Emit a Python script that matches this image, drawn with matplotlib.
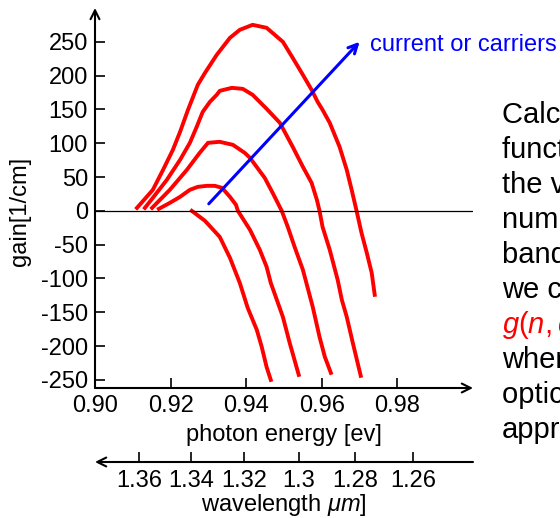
import numpy as np
import matplotlib
matplotlib.use("Agg")
import matplotlib.pyplot as plt

plt.rcParams['font.family'] = ['Liberation Sans', 'DejaVu Sans']
plt.rcParams['mathtext.fontset'] = 'custom'
plt.rcParams['mathtext.rm'] = 'Liberation Sans'
plt.rcParams['mathtext.it'] = 'Liberation Sans:italic'
plt.rcParams['axes.unicode_minus'] = False

# gain curves, photon energy [ev] vs gain [1/cm]
e1 = [0.9256, 0.9291, 0.9330, 0.9357, 0.9383, 0.9404, 0.9428, 0.9441, 0.9454, 0.9465]
g1 = [0, -14.8, -38.5, -69.5, -106.5, -143.5, -176, -201, -231, -250]

e2 = [0.9169, 0.9198, 0.9225, 0.9251, 0.9272, 0.9296, 0.9317, 0.9336, 0.9357, 0.9373,
      0.9378, 0.9410, 0.9436, 0.9454, 0.9465, 0.9481, 0.9497, 0.9515, 0.9539]
g2 = [3.0, 11.8, 20.7, 31.1, 35.5, 37.0, 37.0, 34.0, 20.7, 8.9,
      0, -28.1, -57.7, -82.8, -106.5, -131.6, -156.8, -195.2, -242.6]

e3 = [0.9151, 0.9198, 0.9243, 0.9277, 0.9299, 0.9330, 0.9365, 0.9396, 0.9410, 0.9449,
      0.9470, 0.9494, 0.9510, 0.9528, 0.9550, 0.9576, 0.9594, 0.9608, 0.9624]
g3 = [4.4, 31.1, 60.6, 85.8, 100.6, 102.1, 97.6, 85.8, 78.4, 48.8,
      26.6, 0, -23.7, -53.2, -87.3, -142, -186.4, -215.9, -239.6]

e4 = [0.9132, 0.9153, 0.9190, 0.9225, 0.9251, 0.9269, 0.9285, 0.9304, 0.9322, 0.9330,
      0.9362, 0.9391, 0.9417, 0.9454, 0.9489, 0.9523, 0.9550, 0.9573, 0.9587, 0.9594,
      0.9602, 0.9621, 0.9642, 0.9653, 0.9666, 0.9682, 0.9703]
g4 = [4.4, 19.2, 45.8, 75.4, 100.6, 124.2, 146.4, 161.2, 171.6, 177.5,
      181.9, 180.4, 171.6, 150.9, 130.2, 94.7, 65.1, 41.4, 16.3, 0,
      -23.7, -57.7, -102.1, -131.6, -156.8, -195.2, -244]

e5 = [0.9111, 0.9132, 0.9153, 0.9180, 0.9206, 0.9225, 0.9246, 0.9272, 0.9291, 0.9322,
      0.9357, 0.9383, 0.9417, 0.9454, 0.9497, 0.9523, 0.9550, 0.9573, 0.9589, 0.9602,
      0.9621, 0.9647, 0.9666, 0.9679, 0.9692, 0.9705, 0.9719, 0.9732, 0.9740]
g5 = [4.4, 17.7, 31.1, 60.6, 90.2, 116.8, 149.4, 186.4, 204.1, 230.7,
      255.9, 267.7, 275.1, 270.7, 250, 226.3, 201.1, 179, 161.2, 149.4,
      130.2, 94.7, 60.6, 31.1, 0, -32.5, -62.1, -91.7, -124.2]

curves = [(e1, g1), (e2, g2), (e3, g3), (e4, g4), (e5, g5)]

arrow_start = (0.9301, 10.4)
arrow_end = (0.9700, 250)

yticks = [-250, -200, -150, -100, -50, 0, 50, 100, 150, 200, 250]
xticks = [0.90, 0.92, 0.94, 0.96, 0.98]
wl_ticks = [1.36, 1.34, 1.32, 1.30, 1.28, 1.26]
wl_labels = ['1.36', '1.34', '1.32', '1.3', '1.28', '1.26']

side_text = [
    "Calculating the gain as a",
    "function of photon energy for",
    "the various values of carrier",
    "number injected into the",
    "band edges (or current)",
    "we can write",
    r"$g(n,\omega) = a\,(n - n_{tr})$",
    "where a is the differential",
    "optical gain, this is an",
    "approximation",
]

fig = plt.figure(figsize=(5.6, 5.18), dpi=100)
W, H = 560.0, 518.0
ax = fig.add_axes([95 / W, 1 - 388 / H, 378 / W, 380 / H])

for e, g in curves:
    ax.plot(e, g, color='red', lw=2.8, solid_joinstyle='round')

ax.axhline(0, color='black', lw=0.9)

ax.annotate('', xy=arrow_end, xytext=arrow_start,
            arrowprops=dict(arrowstyle='->', color='blue', lw=2.2,
                            mutation_scale=16, shrinkA=0, shrinkB=0))
ax.text(0.9727, 245, 'current or carriers', color='blue', fontsize=17,
        va='center', ha='left', clip_on=False)

ax.set_xlim(0.90, 1.0)
ax.set_ylim(-262, 300)
ax.set_xticks(xticks)
ax.set_xticklabels(['%.2f' % v for v in xticks])
ax.set_yticks(yticks)
ax.tick_params(direction='in', length=7, width=1.2, labelsize=17, pad=5)
for s in ax.spines.values():
    s.set_visible(False)
ax.annotate('', xy=(0, 1), xytext=(0, 0), xycoords='axes fraction',
            arrowprops=dict(arrowstyle='->', color='black', lw=1.5,
                            mutation_scale=16, shrinkA=0, shrinkB=0))
ax.annotate('', xy=(1, 0), xytext=(0, 0), xycoords='axes fraction',
            arrowprops=dict(arrowstyle='->', color='black', lw=1.5,
                            mutation_scale=16, shrinkA=0, shrinkB=0))
ax.set_xlabel('photon energy [ev]', fontsize=17, labelpad=5)
ax.set_ylabel('gain[1/cm]', fontsize=17)
ax.yaxis.set_label_coords((31 - 95) / 378, (388 - 211) / 380)

# wavelength axis below
ax2 = fig.add_axes([95 / W, 1 - 462 / H, 378 / W, 0.001])
ax2.set_xlim(0.90, 1.0)
ax2.set_xticks(1.24 / np.array(wl_ticks))
ax2.set_xticklabels(wl_labels)
ax2.set_yticks([])
ax2.tick_params(direction='in', length=7, width=1.2, labelsize=17, pad=6)
for s in ax2.spines.values():
    s.set_visible(False)
ax2.patch.set_visible(False)
ax2.annotate('', xy=(0, 0), xytext=(1, 0), xycoords='axes fraction',
             arrowprops=dict(arrowstyle='->', color='black', lw=1.5,
                             mutation_scale=16, shrinkA=0, shrinkB=0))
ax2.set_xlabel(r'wavelength $\mu m$]', fontsize=17, labelpad=0)

for i, line in enumerate(side_text):
    col = 'red' if line.startswith('$') else 'black'
    fig.text(502 / W, 1 - (123 + 35 * i) / H, line, fontsize=21, color=col,
             va='baseline', ha='left')

fig.savefig('out.png', dpi=100)
